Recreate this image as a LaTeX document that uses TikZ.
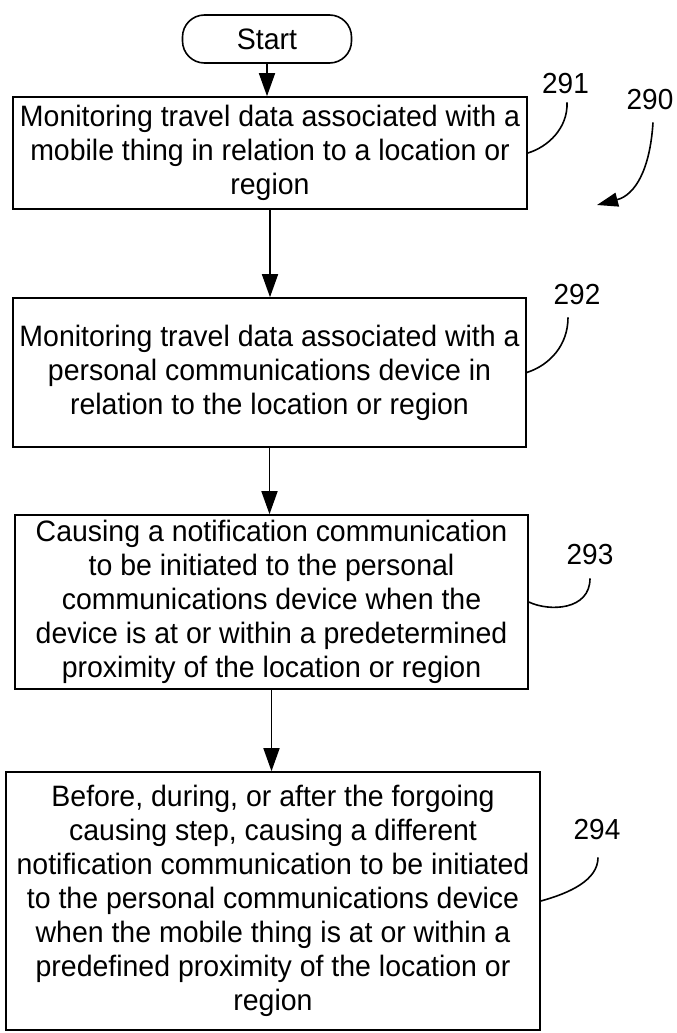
\documentclass[tikz,border=0pt]{standalone}
\usepackage{fontspec}
\setmainfont{Liberation Sans}[FakeStretch=0.965]
\usetikzlibrary{arrows.meta}
\begin{document}
\begin{tikzpicture}[x=1pt,y=-1pt,
  box/.style={draw, line width=1.6pt, inner sep=0pt, align=center, font=\fontsize{29.5}{34}\selectfont},
  term/.style={draw, line width=1.6pt, rounded corners=22pt, inner sep=0pt, font=\fontsize{29.5}{34}\selectfont},
  num/.style={font=\fontsize{29}{34}\selectfont, inner sep=0pt},
  flow/.style={line width=1.6pt, -{Triangle[length=23pt,width=16pt]}},
  lead/.style={line width=1.6pt}
]
\path[use as bounding box, fill=white] (0,0) rectangle (677,1033);

\node[term, minimum width=169pt, minimum height=48pt] (start) at (267,39) {Start};
\node[box, minimum width=514pt, minimum height=112pt] (b1) at (270,153)
  {Monitoring travel data associated with a\\mobile thing in relation to a location or\\region};
\node[box, minimum width=513pt, minimum height=149pt] (b2) at (269.5,372.5)
  {Monitoring travel data associated with a\\personal communications device in\\relation to the location or region};
\node[box, minimum width=513pt, minimum height=174pt] (b3) at (271.5,602)
  {Causing a notification communication\\to be initiated to the personal\\communications device when the\\device is at or within a predetermined\\proximity of the location or region};
\node[box, minimum width=534pt, minimum height=258pt] (b4) at (273,901)
  {Before, during, or after the forgoing\\causing step, causing a different\\notification communication to be initiated\\to the personal communications device\\when the mobile thing is at or within a\\predefined proximity of the location or\\region};

\node[num] (l290) at (650,100) {290};
\node[num] (l291) at (565.5,84) {291};
\node[num] (l292) at (577,295) {292};
\node[num] (l293) at (590,555) {293};
\node[num] (l294) at (597,830) {294};
\coordinate (p290) at (597,205);

\draw[flow] (start.south) -- (start.south |- b1.north);
\draw[flow] (b1.south) -- (b1.south |- b2.north);
\draw[flow] (b2.south) -- (b2.south |- b3.north);
\draw[flow] (b3.south) -- (b3.south |- b4.north);

\draw[lead] (b1.east) .. controls (548,147) and (568,128) .. ([shift={(1.5pt,-8pt)}]l291.south);
\draw[lead] (b2.east) .. controls (550,365) and (568,345) .. ([shift={(-9pt,-12pt)}]l292.south);
\draw[lead] (b3.east) .. controls (550,612) and (590,610) .. ([shift={(0pt,-13pt)}]l293.south);
\draw[lead] (b4.east) .. controls (570,893) and (598,880) .. ([shift={(1pt,-17pt)}]l294.south);
\draw[lead, -{Triangle[length=21pt,width=14pt]}] ([shift={(3pt,-12pt)}]l290.south) .. controls (650,170) and (635,195) .. (p290);
\end{tikzpicture}
\end{document}
